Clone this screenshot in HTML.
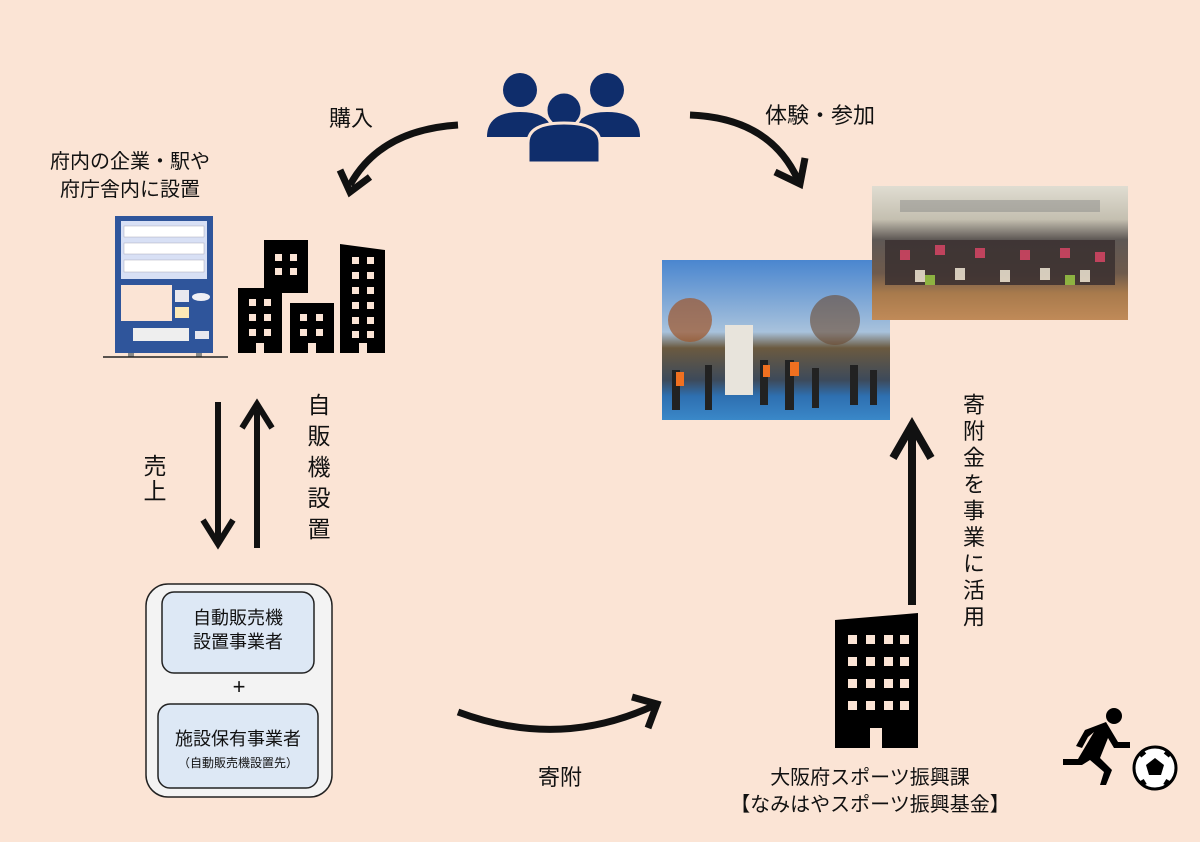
<!DOCTYPE html>
<html><head><meta charset="utf-8"><style>
body{margin:0;width:1200px;height:842px;background:#fbe4d5;position:relative;overflow:hidden;font-family:"Liberation Sans","Noto Sans CJK JP",sans-serif;color:#111}
.t{position:absolute;white-space:nowrap}
.v{position:absolute;writing-mode:vertical-rl;font-size:23px}
</style></head><body>
<svg width="1200" height="842" style="position:absolute;left:0;top:0">
<!-- people -->
<g fill="#0f2d6b">
<circle cx="520" cy="90" r="17"/><path d="M487,137 q0,-25 33,-25 q33,0 33,25 z"/>
<circle cx="607" cy="90" r="17"/><path d="M574,137 q0,-25 33,-25 q33,0 33,25 z"/>
<circle cx="564" cy="110" r="18" stroke="#fbe4d5" stroke-width="3"/><path d="M528,163 v-20 q0,-20 36,-20 q36,0 36,20 v20 z" stroke="#fbe4d5" stroke-width="3"/>
</g>
<path d="M458,125 Q380,130 350,185" fill="none" stroke="#111" stroke-width="7"/>
<path d="M340,170 L350,192 L370,177" fill="none" stroke="#111" stroke-width="7"/>
<path d="M690,115 Q770,118 798,180" fill="none" stroke="#111" stroke-width="7"/>
<path d="M775,172 L800,184 L805,158" fill="none" stroke="#111" stroke-width="7"/>
<path d="M458,712 Q560,750 655,705" fill="none" stroke="#111" stroke-width="7"/>
<path d="M632,697 L657,704 L648,728" fill="none" stroke="#111" stroke-width="7"/>
<!-- vending machine -->
<rect x="115" y="216" width="98" height="137" fill="#2f559b"/>
<rect x="121" y="221" width="86" height="58" fill="#d8e0f5"/>
<rect x="124" y="226" width="80" height="11" fill="#fff" stroke="#aab" stroke-width=".5"/>
<rect x="124" y="243" width="80" height="11" fill="#fff" stroke="#aab" stroke-width=".5"/>
<rect x="124" y="260" width="80" height="12" fill="#fff" stroke="#aab" stroke-width=".5"/>
<rect x="121" y="285" width="51" height="36" fill="#fbe4d5"/>
<rect x="175" y="290" width="14" height="12" fill="#e8e8ef"/>
<rect x="175" y="307" width="14" height="11" fill="#fde9b6"/>
<ellipse cx="201" cy="297" rx="9" ry="4" fill="#f0f0f5"/>
<rect x="133" y="328" width="56" height="13" fill="#eee"/>
<rect x="195" y="331" width="14" height="8" fill="#e8e8ef"/>
<rect x="128" y="353" width="6" height="4" fill="#888"/><rect x="196" y="353" width="6" height="4" fill="#888"/>
<line x1="103" y1="357" x2="228" y2="357" stroke="#222" stroke-width="1.5"/>
<!-- buildings -->
<g fill="#000">
<rect x="264" y="240" width="44" height="53"/>
<rect x="238" y="288" width="44" height="65"/>
<rect x="290" y="303" width="44" height="50"/>
<path d="M340,244 L385,250 V353 H340 Z"/>
</g>
<g fill="#fbe4d5">
<rect x="275" y="254" width="7" height="7"/><rect x="290" y="254" width="7" height="7"/><rect x="275" y="268" width="7" height="7"/><rect x="290" y="268" width="7" height="7"/>
<rect x="249" y="299" width="7" height="7"/><rect x="264" y="299" width="7" height="7"/><rect x="249" y="314" width="7" height="7"/><rect x="264" y="314" width="7" height="7"/><rect x="249" y="329" width="7" height="7"/><rect x="264" y="329" width="7" height="7"/><rect x="256" y="343" width="8" height="10"/>
<rect x="300" y="314" width="7" height="7"/><rect x="316" y="314" width="7" height="7"/><rect x="300" y="329" width="7" height="7"/><rect x="316" y="329" width="7" height="7"/><rect x="308" y="343" width="8" height="10"/>
<rect x="352" y="257" width="7" height="7"/><rect x="367" y="257" width="7" height="7"/><rect x="352" y="272" width="7" height="7"/><rect x="367" y="272" width="7" height="7"/><rect x="352" y="287" width="7" height="7"/><rect x="367" y="287" width="7" height="7"/><rect x="352" y="302" width="7" height="7"/><rect x="367" y="302" width="7" height="7"/><rect x="352" y="317" width="7" height="7"/><rect x="367" y="317" width="7" height="7"/><rect x="352" y="331" width="7" height="7"/><rect x="367" y="331" width="7" height="7"/><rect x="359" y="343" width="8" height="10"/>
</g>
<line x1="218" y1="402" x2="218" y2="540" stroke="#111" stroke-width="6"/>
<path d="M203,520 L218,544 L233,520" fill="none" stroke="#111" stroke-width="6"/>
<line x1="257" y1="410" x2="257" y2="548" stroke="#111" stroke-width="6"/>
<path d="M242,428 L257,404 L272,428" fill="none" stroke="#111" stroke-width="6"/>
<rect x="146" y="584" width="186" height="213" rx="22" fill="#f3f3f3" stroke="#222" stroke-width="1.5"/>
<rect x="162" y="592" width="152" height="81" rx="12" fill="#dde8f5" stroke="#222" stroke-width="1.5"/>
<rect x="158" y="704" width="160" height="84" rx="12" fill="#dde8f5" stroke="#222" stroke-width="1.5"/>
<line x1="912" y1="430" x2="912" y2="605" stroke="#111" stroke-width="8"/>
<path d="M893,458 L912,425 L931,458" fill="none" stroke="#111" stroke-width="8"/>
<path d="M835,620 L918,613 V748 H835 Z" fill="#000"/>
<g fill="#fbe4d5">
<rect x="848" y="635" width="9" height="9"/><rect x="866" y="635" width="9" height="9"/><rect x="884" y="635" width="9" height="9"/><rect x="900" y="635" width="9" height="9"/>
<rect x="848" y="657" width="9" height="9"/><rect x="866" y="657" width="9" height="9"/><rect x="884" y="657" width="9" height="9"/><rect x="900" y="657" width="9" height="9"/>
<rect x="848" y="679" width="9" height="9"/><rect x="866" y="679" width="9" height="9"/><rect x="884" y="679" width="9" height="9"/><rect x="900" y="679" width="9" height="9"/>
<rect x="848" y="701" width="9" height="9"/><rect x="866" y="701" width="9" height="9"/><rect x="884" y="701" width="9" height="9"/><rect x="900" y="701" width="9" height="9"/>
<rect x="870" y="728" width="12" height="20"/>
</g>
<defs>
<linearGradient id="p1" x1="0" y1="0" x2="0" y2="1"><stop offset="0" stop-color="#4a86cf"/><stop offset=".45" stop-color="#a8c2dc"/><stop offset=".55" stop-color="#6b5a40"/><stop offset=".75" stop-color="#3d4a5a"/><stop offset=".85" stop-color="#2e6fb0"/><stop offset="1" stop-color="#3a88c8"/></linearGradient>
<linearGradient id="p2" x1="0" y1="0" x2="0" y2="1"><stop offset="0" stop-color="#e0ddd2"/><stop offset=".25" stop-color="#c4bfb0"/><stop offset=".4" stop-color="#5e5855"/><stop offset=".65" stop-color="#6e5a4c"/><stop offset=".8" stop-color="#a87a4c"/><stop offset="1" stop-color="#c08a58"/></linearGradient>
</defs>
<rect x="662" y="260" width="228" height="160" fill="url(#p1)"/>
<circle cx="690" cy="320" r="22" fill="#a0552a" opacity=".7"/>
<circle cx="835" cy="320" r="25" fill="#6a4a30" opacity=".6"/>
<rect x="725" y="325" width="28" height="70" fill="#e8e4dc"/>
<g fill="#222"><rect x="672" y="370" width="8" height="40"/><rect x="705" y="365" width="7" height="45"/><rect x="760" y="360" width="8" height="45"/><rect x="785" y="360" width="9" height="50"/><rect x="812" y="368" width="7" height="40"/><rect x="850" y="365" width="8" height="40"/><rect x="870" y="370" width="7" height="35"/></g>
<g fill="#f07020"><rect x="676" y="372" width="8" height="14"/><rect x="790" y="362" width="9" height="14"/><rect x="763" y="365" width="7" height="12"/></g>
<rect x="872" y="186" width="256" height="134" fill="url(#p2)"/>
<rect x="900" y="200" width="200" height="12" fill="#8a8a88" opacity=".5"/>
<g opacity=".85"><rect x="885" y="240" width="230" height="45" fill="#3a3030"/>
<g fill="#d04060"><rect x="900" y="250" width="10" height="10"/><rect x="935" y="245" width="10" height="10"/><rect x="975" y="248" width="10" height="10"/><rect x="1020" y="250" width="10" height="10"/><rect x="1060" y="248" width="10" height="10"/><rect x="1095" y="252" width="10" height="10"/></g>
<g fill="#e8e0d0"><rect x="915" y="270" width="10" height="12"/><rect x="955" y="268" width="10" height="12"/><rect x="1000" y="270" width="10" height="12"/><rect x="1040" y="268" width="10" height="12"/><rect x="1080" y="270" width="10" height="12"/></g>
<g fill="#90c040"><rect x="925" y="275" width="10" height="10"/><rect x="1065" y="275" width="10" height="10"/></g></g>
<g fill="#000">
<circle cx="1114" cy="716" r="8"/>
<path d="M1085,730 L1106,722 L1118,742 L1130,742 L1130,748 L1114,748 L1108,738 L1100,758 L1112,770 L1106,785 L1100,785 L1104,772 L1090,760 L1082,765 L1063,765 L1063,759 L1078,759 L1094,732 L1088,737 L1082,748 L1076,746 Z"/>
</g>
<circle cx="1155" cy="768" r="21" fill="#fff" stroke="#000" stroke-width="3"/>
<path d="M1155,758 l9,7 -3,10 -12,0 -3,-10 z" fill="#000"/>
<path d="M1140,756 l5,-4 M1170,756 l-5,-4 M1145,785 l-3,-5 M1165,785 l3,-5" stroke="#000" stroke-width="4"/>
</svg>
<div class="t" style="left:329px;top:101px;font-size:22px">購入</div>
<div class="t" style="left:765px;top:98px;font-size:22px">体験・参加</div>
<div class="t" style="left:45px;top:148px;width:170px;text-align:center;font-size:20px;line-height:28px">府内の企業・駅や<br>府庁舎内に設置</div>
<div class="v" style="left:136px;top:454px;letter-spacing:2px">売上</div>
<div class="v" style="left:300px;top:393px;letter-spacing:8px">自販機設置</div>
<div class="t" style="left:162px;top:606px;width:152px;text-align:center;font-size:18px;line-height:24px">自動販売機<br>設置事業者</div>
<div class="t" style="left:146px;top:674px;width:186px;text-align:center;font-size:22px">+</div>
<div class="t" style="left:158px;top:728px;width:160px;text-align:center;font-size:18px;line-height:22px">施設保有事業者<br><span style="font-size:12px">（自動販売機設置先）</span></div>
<div class="t" style="left:538px;top:760px;font-size:22px">寄附</div>
<div class="t" style="left:720px;top:765px;width:300px;text-align:center;font-size:20px;line-height:27px">大阪府スポーツ振興課<br>【なみはやスポーツ振興基金】</div>
<div class="v" style="left:956px;top:393px;font-size:22px;letter-spacing:4.5px">寄附金を事業に活用</div>
</body></html>
